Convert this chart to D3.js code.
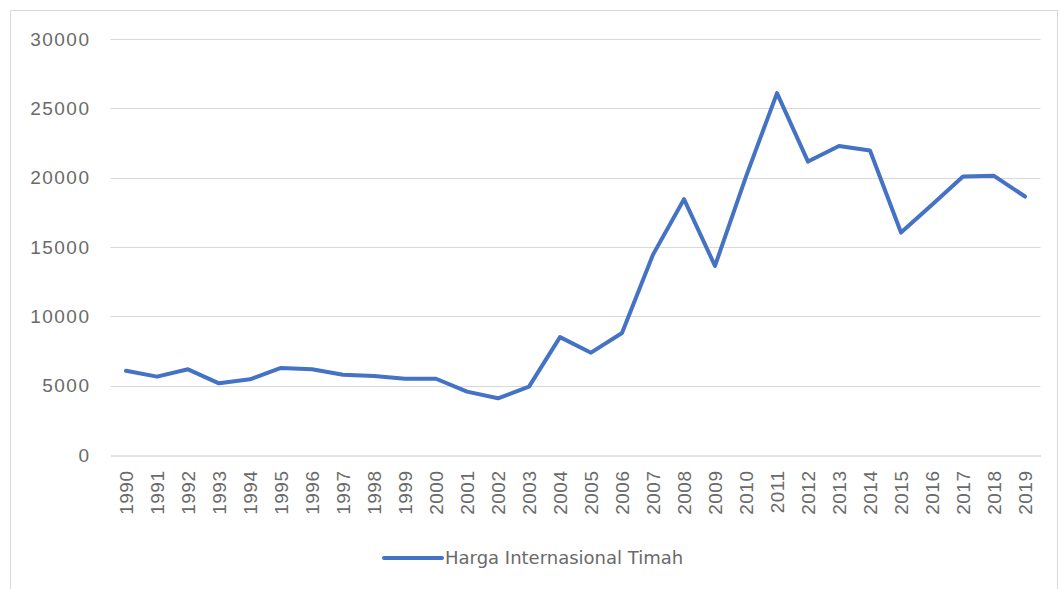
<!DOCTYPE html>
<html>
<head>
<meta charset="utf-8">
<script src="https://cdn.jsdelivr.net/npm/d3@7"></script>
<style>
  body { margin: 0; background: #fff; }
  svg { display: block; font-family: "DejaVu Sans", sans-serif; }
</style>
</head>
<body>
<div id="chart"></div>
<script>
// tin price per year
const years = ["1990", "1991", "1992", "1993", "1994", "1995", "1996", "1997", "1998", "1999",
               "2000", "2001", "2002", "2003", "2004", "2005", "2006", "2007", "2008", "2009",
               "2010", "2011", "2012", "2013", "2014", "2015", "2016", "2017", "2018", "2019"];
const prices = [6080, 5650, 6180, 5170, 5460, 6280, 6180, 5790, 5700, 5500,
                5500, 4570, 4090, 4930, 8500, 7380, 8800, 14450, 18450, 13640,
                20080, 26100, 21160, 22290, 21960, 16040, 18040, 20080, 20130, 18640];
const yTicks = [0, 5000, 10000, 15000, 20000, 25000, 30000];
const seriesName = "Harga Internasional Timah";

const width = 1061, height = 589;
const margin = {top: 39, right: 20.5, bottom: 134, left: 110.5};

const svg = d3.select("#chart").append("svg")
    .attr("width", width)
    .attr("height", height);

// chart frame
svg.append("rect")
    .attr("x", 10.5)
    .attr("y", 10.5)
    .attr("width", width - 14)
    .attr("height", height)
    .attr("fill", "none")
    .attr("stroke", "#d9d9d9");

const x = d3.scaleBand()
    .domain(years)
    .range([margin.left, width - margin.right]);

const y = d3.scaleLinear()
    .domain([0, 30000])
    .range([height - margin.bottom, margin.top]);

// gridlines
svg.append("g")
    .selectAll("line")
    .data(yTicks.filter(d => d > 0))
    .enter()
    .append("line")
    .attr("x1", margin.left)
    .attr("x2", width - margin.right)
    .attr("y1", d => Math.round(y(d)) + 0.5)
    .attr("y2", d => Math.round(y(d)) + 0.5)
    .attr("stroke", "#d9d9d9")
    .attr("stroke-width", 1);

// y axis labels
const yAxis = svg.append("g")
    .attr("transform", `translate(${margin.left},0)`)
    .call(d3.axisLeft(y).tickValues(yTicks).tickSize(0).tickPadding(20).tickFormat(d3.format("d")));
yAxis.select(".domain").remove();
yAxis.selectAll("text")
    .attr("fill", "#6a6a6a")
    .attr("font-size", "19px")
    .attr("letter-spacing", "1.5px");

// x axis
const xAxis = svg.append("g")
    .attr("transform", `translate(0,${Math.round(y(0)) + 0.5})`)
    .call(d3.axisBottom(x).tickSize(0).tickSizeOuter(0));
xAxis.select(".domain").attr("stroke", "#c8c8c8");
xAxis.selectAll("text")
    .attr("fill", "#6a6a6a")
    .attr("font-size", "19px")
    .attr("letter-spacing", "0.5px")
    .attr("transform", "rotate(-90)")
    .attr("text-anchor", "end")
    .attr("dy", "0.35em")
    .attr("x", -15)
    .attr("y", 0);

// the line
const line = d3.line()
    .x((d, i) => x(years[i]) + x.bandwidth() / 2)
    .y(d => y(d));

svg.append("path")
    .datum(prices)
    .attr("d", line)
    .attr("fill", "none")
    .attr("stroke", "#4472c4")
    .attr("stroke-width", 4)
    .attr("stroke-linejoin", "round")
    .attr("stroke-linecap", "round");

// legend
const legend = svg.append("g").attr("transform", "translate(384,558)");
legend.append("line")
    .attr("x1", 0)
    .attr("x2", 58)
    .attr("stroke", "#4472c4")
    .attr("stroke-width", 4)
    .attr("stroke-linecap", "round");
legend.append("text")
    .attr("x", 61)
    .attr("dy", "0.35em")
    .attr("fill", "#6a6a6a")
    .attr("font-size", "18px")
    .text(seriesName);
</script>
</body>
</html>
